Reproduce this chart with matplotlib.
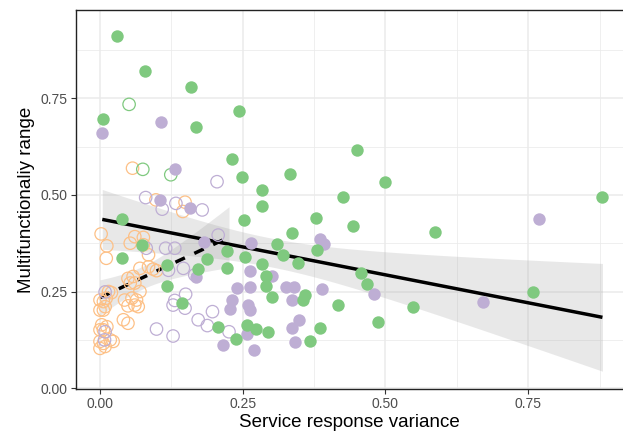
import numpy as np
import matplotlib
matplotlib.use("Agg")
import matplotlib.pyplot as plt
from matplotlib.ticker import MultipleLocator

# ---- data ----
green_filled_x = [0.029, 0.079, 0.159, 0.005, 0.169, 0.243, 0.451, 0.231, 0.249, 0.333,
                  0.499, 0.284, 0.284, 0.426, 0.880, 0.252, 0.378, 0.444, 0.586, 0.336,
                  0.310, 0.380, 0.321, 0.254, 0.347, 0.284, 0.458, 0.290, 0.291, 0.467,
                  0.302, 0.359, 0.355, 0.758, 0.548, 0.416, 0.487, 0.258, 0.274, 0.295,
                  0.386, 0.239, 0.367, 0.223, 0.222, 0.188, 0.172, 0.117, 0.117, 0.144,
                  0.207, 0.038, 0.039, 0.074]
green_filled_y = [0.912, 0.821, 0.778, 0.696, 0.676, 0.717, 0.615, 0.594, 0.546, 0.553,
                  0.533, 0.513, 0.472, 0.494, 0.494, 0.434, 0.441, 0.419, 0.403, 0.401,
                  0.372, 0.358, 0.345, 0.340, 0.324, 0.321, 0.299, 0.290, 0.265, 0.269,
                  0.236, 0.240, 0.228, 0.249, 0.211, 0.215, 0.172, 0.164, 0.153, 0.146,
                  0.157, 0.127, 0.123, 0.355, 0.310, 0.334, 0.308, 0.319, 0.265, 0.221,
                  0.159, 0.438, 0.338, 0.371]

purple_filled_x = [0.107, 0.004, 0.769, 0.385, 0.392, 0.264, 0.263, 0.301, 0.240, 0.263,
                   0.325, 0.340, 0.388, 0.480, 0.336, 0.231, 0.260, 0.263, 0.228, 0.670,
                   0.349, 0.336, 0.257, 0.342, 0.270, 0.183, 0.169, 0.216, 0.131, 0.105,
                   0.158]
purple_filled_y = [0.689, 0.661, 0.438, 0.387, 0.373, 0.375, 0.303, 0.290, 0.260, 0.262,
                   0.261, 0.261, 0.256, 0.244, 0.227, 0.228, 0.214, 0.202, 0.206, 0.224,
                   0.176, 0.157, 0.139, 0.120, 0.099, 0.377, 0.287, 0.111, 0.567, 0.487,
                   0.467]

green_open_x = [0.051, 0.075, 0.124]
green_open_y = [0.734, 0.566, 0.552]

orange_open_x = [0.057, 0.002, 0.012, 0.011, 0.053, 0.061, 0.076, 0.085, 0.070, 0.085,
                 0.093, 0.099, 0.049, 0.058, 0.053, 0.061, 0.070, 0.015, 0.020, 0.000,
                 0.006, 0.011, 0.000, 0.006, 0.009, 0.043, 0.056, 0.064, 0.049, 0.061,
                 0.067, 0.041, 0.049, 0.003, 0.012, 0.000, 0.006, 0.000, 0.006, 0.018,
                 0.023, 0.000, 0.009, 0.098, 0.149, 0.145, 0.076]
orange_open_y = [0.569, 0.399, 0.368, 0.336, 0.375, 0.392, 0.371, 0.345, 0.310, 0.314,
                 0.308, 0.304, 0.284, 0.289, 0.272, 0.272, 0.250, 0.250, 0.247, 0.228,
                 0.224, 0.233, 0.202, 0.202, 0.211, 0.228, 0.233, 0.228, 0.213, 0.215,
                 0.211, 0.177, 0.168, 0.164, 0.159, 0.151, 0.151, 0.121, 0.116, 0.125,
                 0.121, 0.103, 0.108, 0.487, 0.481, 0.457, 0.390]

purple_open_x = [0.205, 0.080, 0.109, 0.133, 0.179, 0.207, 0.115, 0.131, 0.146, 0.166,
                 0.120, 0.131, 0.150, 0.149, 0.128, 0.197, 0.172, 0.188, 0.226, 0.128,
                 0.081, 0.009, 0.009, 0.008, 0.099]
purple_open_y = [0.534, 0.493, 0.463, 0.478, 0.461, 0.396, 0.362, 0.362, 0.310, 0.293,
                 0.305, 0.227, 0.243, 0.207, 0.215, 0.198, 0.177, 0.162, 0.146, 0.135,
                 0.362, 0.249, 0.146, 0.125, 0.153]

x_ticks = [0.00, 0.25, 0.50, 0.75]
y_ticks = [0.00, 0.25, 0.50, 0.75]
x_label = "Service response variance"
y_label = "Multifunctionaliy range"

GREEN = "#7FC97F"
PURPLE = "#BEAED4"
ORANGE = "#FDC086"

plt.rcParams['font.family'] = ['Liberation Sans', 'DejaVu Sans']

fig = plt.figure(figsize=(6.23, 4.34), dpi=100)
ax = fig.add_axes([76/623, 1 - 389/434, 1 - 76/623, (389 - 10)/434])


def fit_band(xs, ys, tval=1.99, n=80):
    xs = np.asarray(xs, float)
    ys = np.asarray(ys, float)
    b1, b0 = np.polyfit(xs, ys, 1)
    res = ys - (b0 + b1 * xs)
    m = len(xs)
    s = np.sqrt(np.sum(res ** 2) / (m - 2))
    gx = np.linspace(xs.min(), xs.max(), n)
    sxx = np.sum((xs - xs.mean()) ** 2)
    se = s * np.sqrt(1.0 / m + (gx - xs.mean()) ** 2 / sxx)
    gy = b0 + b1 * gx
    return gx, gy, gy - tval * se, gy + tval * se


solid_x = green_filled_x + purple_filled_x
solid_y = green_filled_y + purple_filled_y
dash_x = orange_open_x + purple_open_x + green_open_x
dash_y = orange_open_y + purple_open_y + green_open_y

for xs, ys, ls in [(solid_x, solid_y, '-'), (dash_x, dash_y, (0, (3, 3)))]:
    gx, gy, lo, hi = fit_band(xs, ys)
    ax.fill_between(gx, lo, hi, color='#999999', alpha=0.22, lw=0, zorder=2)
    ax.plot(gx, gy, color='black', lw=2.5, ls=ls, zorder=3, solid_capstyle='butt')

S = 80
ax.scatter(orange_open_x, orange_open_y, s=S, facecolors='none', edgecolors=ORANGE, linewidths=0.9, zorder=4)
ax.scatter(purple_open_x, purple_open_y, s=S, facecolors='none', edgecolors=PURPLE, linewidths=0.9, zorder=4)
ax.scatter(green_open_x, green_open_y, s=S, facecolors='none', edgecolors=GREEN, linewidths=0.9, zorder=4)
ax.scatter(purple_filled_x, purple_filled_y, s=S, color=PURPLE, linewidths=0, zorder=5)
ax.scatter(green_filled_x, green_filled_y, s=S, color=GREEN, linewidths=0, zorder=5)

ax.set_xlim(-0.042, 0.916)
ax.set_ylim(-0.002, 0.978)
ax.set_xticks(x_ticks)
ax.set_yticks(y_ticks)
ax.set_xticklabels([f"{v:.2f}" for v in x_ticks])
ax.set_yticklabels([f"{v:.2f}" for v in y_ticks])
ax.xaxis.set_minor_locator(MultipleLocator(0.125))
ax.yaxis.set_minor_locator(MultipleLocator(0.125))
ax.grid(which='major', color='#EBEBEB', lw=1.1, zorder=0)
ax.grid(which='minor', color='#EBEBEB', lw=0.55, zorder=0)
ax.set_axisbelow(True)
ax.tick_params(which='minor', length=0)
ax.tick_params(which='major', length=3.5, width=0.8, color='#333333',
               labelcolor='#4D4D4D', labelsize=10, pad=2.5)
for side in ['left', 'bottom', 'top']:
    ax.spines[side].set_color('#222222')
    ax.spines[side].set_linewidth(1.0)
ax.spines['right'].set_visible(False)

ax.set_xlabel(x_label, fontsize=13.5, color='black', labelpad=2)
ax.set_ylabel(y_label, fontsize=13.5, color='black', labelpad=4)

fig.savefig("out.png", dpi=100)
